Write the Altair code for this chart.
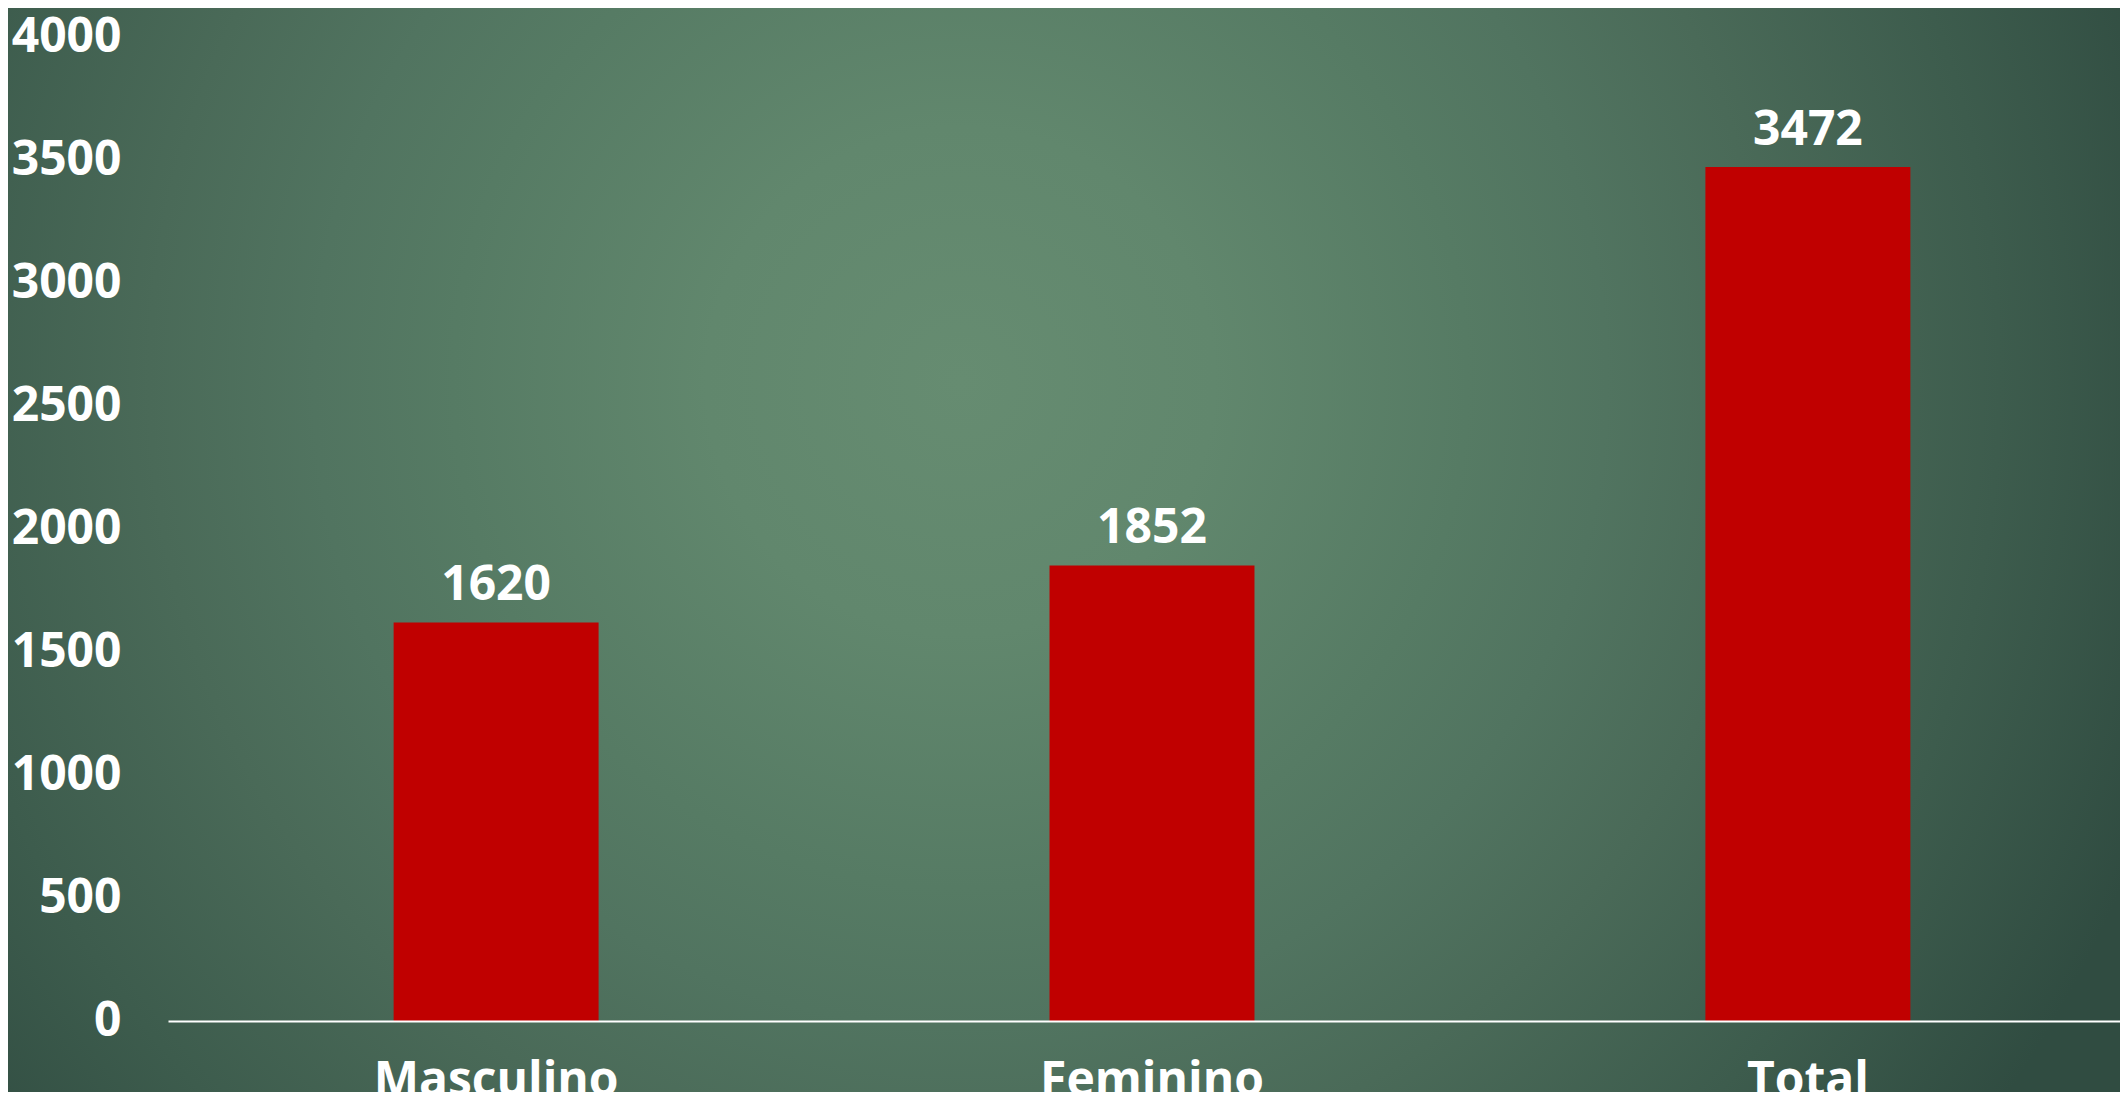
import altair as alt
import pandas as pd

categories = ["Masculino", "Feminino", "Total"]
values = [1620, 1852, 3472]
y_ticks = [0, 500, 1000, 1500, 2000, 2500, 3000, 3500, 4000]

df = pd.DataFrame({"cat": categories, "val": values})
bg_df = pd.DataFrame({"k": [0]})

W = 1952
H = 984
FONT = "Open Sans"

bg = alt.Chart(bg_df).mark_rect(
    color=alt.Gradient(
        gradient="radial",
        x1=0.451, y1=0.42, r1=0,
        x2=0.451, y2=0.42, r2=0.6,
        stops=[
            alt.GradientStop(offset=0.0, color="#668c71"),
            alt.GradientStop(offset=0.2, color="#61876d"),
            alt.GradientStop(offset=0.4, color="#567b64"),
            alt.GradientStop(offset=0.51, color="#517460"),
            alt.GradientStop(offset=0.64, color="#4a6a58"),
            alt.GradientStop(offset=0.82, color="#3d5c4d"),
            alt.GradientStop(offset=1.0, color="#304c41"),
        ],
    )
).encode(
    x=alt.value(-160), x2=alt.value(W),
    y=alt.value(-29), y2=alt.value(H + 71),
)

xenc = alt.X(
    "cat:N", sort=categories, title=None,
    scale=alt.Scale(paddingInner=0.6875, paddingOuter=0.344, range=[0, 1968]),
    axis=alt.Axis(
        labelAngle=0, ticks=False, domain=True, domainColor="#ffffff",
        domainWidth=2, labelColor="#ffffff", labelFontSize=48,
        labelFont=FONT, labelFontWeight="bold", labelPadding=36, grid=False,
        labelBaseline="top", zindex=1, labelLimit=0,
    ),
)
yenc = alt.Y(
    "val:Q", title=None,
    scale=alt.Scale(domain=[0, 4000], nice=False),
    axis=alt.Axis(
        values=y_ticks, format="d", domain=False, ticks=False, grid=False,
        labelColor="#ffffff", labelFontSize=48, labelFont=FONT,
        labelFontWeight="bold", labelPadding=47, zindex=1, labelLimit=0,
    ),
)

bars = alt.Chart(df).mark_bar(color="#c00000").encode(x=xenc, y=yenc)

labels = alt.Chart(df).mark_text(
    color="#ffffff", fontSize=48, font=FONT, fontWeight="bold",
    baseline="alphabetic", dy=-22,
).encode(
    x=alt.X("cat:N", sort=categories),
    y=alt.Y("val:Q"),
    text=alt.Text("val:Q", format="d"),
)

chart = alt.layer(bg, bars, labels).properties(
    width=W, height=H,
    autosize=alt.AutoSizeParams(type="none"),
    padding={"left": 160, "top": 29, "right": 0, "bottom": 71},
    background="#3d5c4d",
).configure_view(stroke=None)

chart.save("out.html", embed_options={"renderer": "svg", "actions": False})
